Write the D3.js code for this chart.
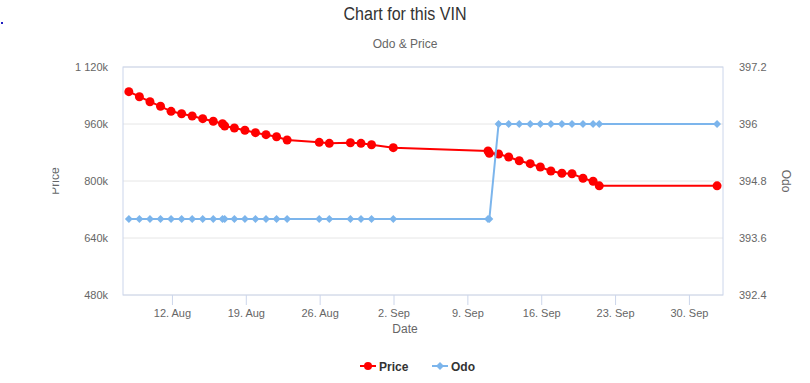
<!DOCTYPE html>
<html>
<head>
<meta charset="utf-8">
<script src="https://cdn.jsdelivr.net/npm/d3@7"></script>
<style>
  body { margin: 0; background: #fff; }
  svg { font-family: "Liberation Sans", Arial, sans-serif; display: block; }
</style>
</head>
<body>
<svg id="chart" width="810" height="383"></svg>
<script>
// readings
const dates = [
    "2019-08-07T22:00", "2019-08-08T22:00", "2019-08-09T22:00", "2019-08-10T22:00",
    "2019-08-11T22:00", "2019-08-12T22:00", "2019-08-13T22:00", "2019-08-14T22:00",
    "2019-08-15T22:00", "2019-08-16T19:00", "2019-08-17T00:00", "2019-08-17T22:00",
    "2019-08-18T22:00", "2019-08-19T22:00", "2019-08-20T22:00", "2019-08-21T22:00",
    "2019-08-22T22:00", "2019-08-25T23:00", "2019-08-26T22:00", "2019-08-28T22:00",
    "2019-08-29T22:00", "2019-08-30T22:00", "2019-09-01T23:30", "2019-09-10T23:00",
    "2019-09-11T02:00", "2019-09-11T23:00", "2019-09-12T22:00", "2019-09-13T22:00",
    "2019-09-14T23:00", "2019-09-15T22:00", "2019-09-16T22:00", "2019-09-17T23:00",
    "2019-09-18T22:00", "2019-09-19T23:00", "2019-09-20T22:00", "2019-09-21T12:00",
    "2019-10-02T16:00"
];
const prices = [
    1050700, 1036600, 1022600, 1009700, 995600, 988900, 982500, 974900,
    967600, 960800, 954400, 948800, 942300, 935600, 930000, 924300,
    915100, 908600, 905800, 907500, 905800, 901900, 893500, 884300,
    877800, 875800, 867400, 857000, 848600, 839300, 828100, 821600,
    820500, 807600, 799200, 786500, 786500
];
const odos = [
    394, 394, 394, 394, 394, 394, 394, 394,
    394, 394, 394, 394, 394, 394, 394, 394,
    394, 394, 394, 394, 394, 394, 394, 394,
    394, 396, 396, 396, 396, 396, 396, 396,
    396, 396, 396, 396, 396
];
const priceTicks = [480000, 640000, 800000, 960000, 1120000];
const odoTicks = [392.4, 393.6, 394.8, 396, 397.2];
const dateTicks = ["2019-08-12", "2019-08-19", "2019-08-26", "2019-09-02",
                   "2019-09-09", "2019-09-16", "2019-09-23", "2019-09-30"];

const svg = d3.select("#chart");
const width = +svg.attr("width");
const margin = { top: 67, right: 87, bottom: 88, left: 123 };
const height = +svg.attr("height");
const chartWidth = width - margin.left - margin.right;
const chartHeight = height - margin.top - margin.bottom;

const parse = d3.timeParse("%Y-%m-%dT%H:%M");
const parseDay = d3.timeParse("%Y-%m-%d");
const data = dates.map((d, i) => ({ date: parse(d), price: prices[i], odo: odos[i] }));

const x = d3.scaleTime()
    .domain([parse("2019-08-07T08:40"), parse("2019-10-03T05:30")])
    .range([0, chartWidth]);
const yPrice = d3.scaleLinear().domain([480000, 1120000]).range([chartHeight, 0]);
const yOdo = d3.scaleLinear().domain([392.4, 397.2]).range([chartHeight, 0]);

// title block
svg.append("text")
    .attr("x", 405).attr("y", 20)
    .attr("text-anchor", "middle")
    .attr("font-size", 18).attr("fill", "#333")
    .attr("textLength", 123).attr("lengthAdjust", "spacingAndGlyphs")
    .text("Chart for this VIN");
svg.append("text")
    .attr("x", 405).attr("y", 48)
    .attr("text-anchor", "middle")
    .attr("font-size", 12).attr("fill", "#666")
    .text("Odo & Price");
svg.append("rect")
    .attr("x", 1).attr("y", 22).attr("width", 2).attr("height", 2)
    .attr("fill", "#2020c0");

const g = svg.append("g")
    .attr("transform", `translate(${margin.left},${margin.top})`);

// grid
g.append("g")
    .selectAll("line")
    .data(priceTicks)
    .join("line")
    .attr("x1", 0).attr("x2", chartWidth)
    .attr("y1", d => yPrice(d)).attr("y2", d => yPrice(d))
    .attr("stroke", "#e6e6e6");

// plot border
g.append("rect")
    .attr("width", chartWidth).attr("height", chartHeight)
    .attr("fill", "none").attr("stroke", "#ccd6eb");

// x axis
const xAxis = g.append("g")
    .attr("transform", `translate(0,${chartHeight})`)
    .call(d3.axisBottom(x)
        .tickValues(dateTicks.map(parseDay))
        .tickFormat(d3.timeFormat("%-d. %b"))
        .tickSize(10).tickPadding(4));
xAxis.select(".domain").remove();
xAxis.selectAll("line").attr("stroke", "#ccd6eb");
xAxis.selectAll("text").attr("fill", "#666").attr("font-size", 11)
    .attr("font-family", "Liberation Sans, Arial, sans-serif");

const leftAxis = g.append("g")
    .call(d3.axisLeft(yPrice)
        .tickValues(priceTicks)
        .tickFormat(d => d3.format(",")(d / 1000).replace(",", " ") + "k")
        .tickSize(0).tickPadding(15));
leftAxis.select(".domain").remove();
leftAxis.selectAll("text").attr("fill", "#666").attr("font-size", 11)
    .attr("font-family", "Liberation Sans, Arial, sans-serif");

const rightAxis = g.append("g")
    .attr("transform", `translate(${chartWidth},0)`)
    .call(d3.axisRight(yOdo)
        .tickValues(odoTicks)
        .tickFormat(d3.format("~g"))
        .tickSize(0).tickPadding(16));
rightAxis.select(".domain").remove();
rightAxis.selectAll("text").attr("fill", "#666").attr("font-size", 11)
    .attr("font-family", "Liberation Sans, Arial, sans-serif");

// axis titles
svg.append("text")
    .attr("x", 405).attr("y", 333)
    .attr("text-anchor", "middle")
    .attr("font-size", 12).attr("fill", "#666")
    .text("Date");

svg.append("clipPath").attr("id", "priceClip")
    .append("rect").attr("x", 52.5).attr("y", 0).attr("width", 40).attr("height", 383);
svg.append("g")
    .attr("clip-path", "url(#priceClip)")
    .append("text")
    .attr("transform", "translate(58.5,181) rotate(-90)")
    .attr("text-anchor", "middle")
    .attr("font-size", 12).attr("fill", "#666")
    .text("Price");

svg.append("text")
    .attr("transform", "translate(781.5,181) rotate(90)")
    .attr("text-anchor", "middle")
    .attr("font-size", 12).attr("fill", "#666")
    .text("Odo");

// series
const priceLine = d3.line().x(d => x(d.date)).y(d => yPrice(d.price));
const odoLine = d3.line().x(d => x(d.date)).y(d => yOdo(d.odo));
const diamond = d3.symbol().type(d3.symbolDiamond2).size(40);

g.append("path")
    .datum(data)
    .attr("d", priceLine)
    .attr("fill", "none").attr("stroke", "#ff0000").attr("stroke-width", 2);
g.append("g")
    .selectAll("circle")
    .data(data)
    .join("circle")
    .attr("cx", d => x(d.date)).attr("cy", d => yPrice(d.price))
    .attr("r", 4.5).attr("fill", "#ff0000");

g.append("path")
    .datum(data)
    .attr("d", odoLine)
    .attr("fill", "none").attr("stroke", "#7cb5ec").attr("stroke-width", 2);
g.append("g")
    .selectAll("path")
    .data(data)
    .join("path")
    .attr("transform", d => `translate(${x(d.date)},${yOdo(d.odo)})`)
    .attr("d", diamond).attr("fill", "#7cb5ec");

// legend
const legend = svg.append("g").attr("transform", "translate(360,366)");
const items = [
    { name: "Price", color: "#ff0000", x: 0, marker: "circle" },
    { name: "Odo", color: "#7cb5ec", x: 72, marker: "diamond" }
];
items.forEach(it => {
    const li = legend.append("g").attr("transform", `translate(${it.x},0)`);
    li.append("line").attr("x1", 0).attr("x2", 16).attr("y1", 0).attr("y2", 0)
        .attr("stroke", it.color).attr("stroke-width", 2);
    if (it.marker === "circle") {
        li.append("circle").attr("cx", 8).attr("cy", 0).attr("r", 4).attr("fill", it.color);
    } else {
        li.append("path").attr("transform", "translate(8,0)").attr("d", diamond).attr("fill", it.color);
    }
    li.append("text").attr("x", 19).attr("y", 4.5)
        .attr("font-size", 12).attr("font-weight", "bold").attr("fill", "#333")
        .text(it.name);
});
</script>
</body>
</html>
